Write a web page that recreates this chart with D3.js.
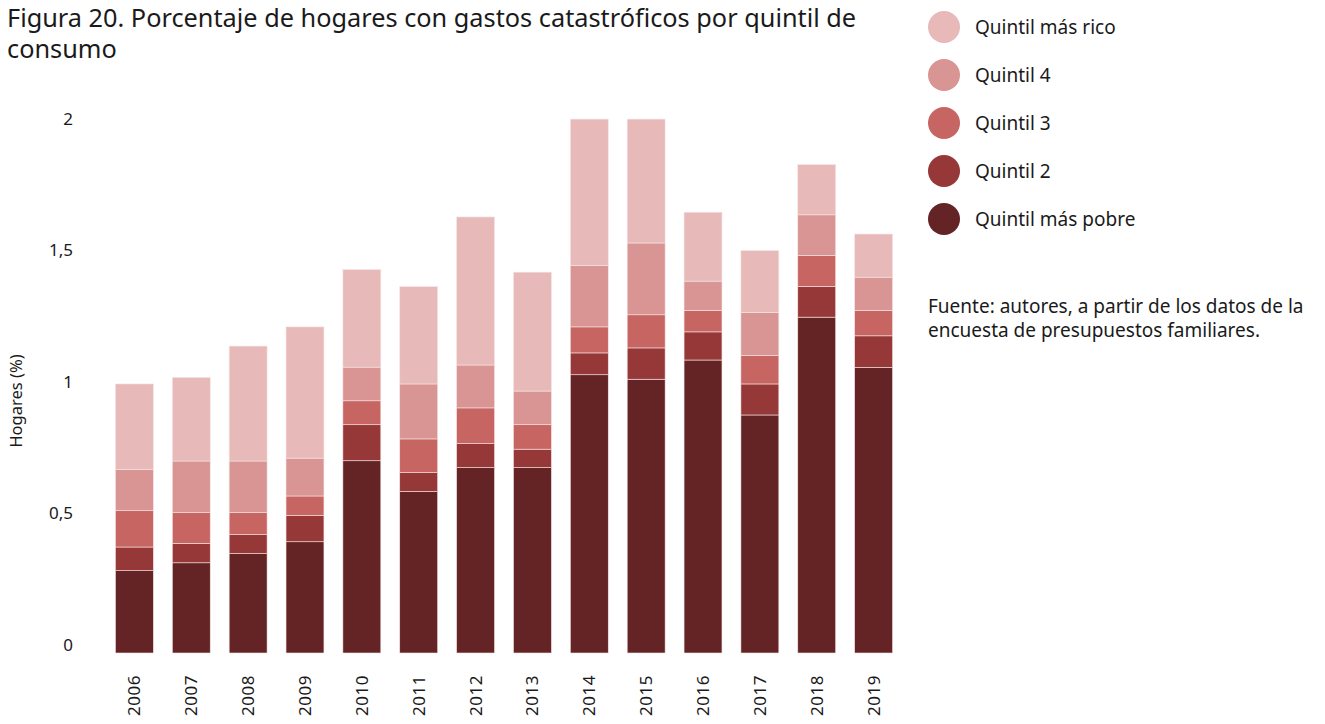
<!DOCTYPE html>
<meta charset="utf-8">
<style>
  body { margin: 0; background: #fff; }
  text { font-family: "Noto Sans", "Open Sans", sans-serif; fill: #1a1a1a; }
  .tick text { font-size: 17px; }
</style>
<svg width="1325" height="724"></svg>
<script src="https://cdnjs.cloudflare.com/ajax/libs/d3/7.8.5/d3.min.js"></script>
<script>

var years = ["2006","2007","2008","2009","2010","2011","2012","2013","2014","2015","2016","2017","2018","2019"];
// stacked from the bottom: poorest first
var quintiles = ["Quintil más pobre","Quintil 2","Quintil 3","Quintil 4","Quintil más rico"];
var poorest = [0.313,0.343,0.378,0.423,0.731,0.614,0.705,0.705,1.058,1.041,1.114,0.905,1.277,1.086];
var q2      = [0.090,0.074,0.072,0.100,0.137,0.072,0.091,0.070,0.083,0.119,0.107,0.118,0.117,0.120];
var q3      = [0.138,0.117,0.084,0.074,0.091,0.128,0.136,0.093,0.099,0.126,0.082,0.108,0.118,0.097];
var q4      = [0.156,0.196,0.196,0.144,0.128,0.209,0.163,0.128,0.234,0.273,0.111,0.164,0.154,0.126];
var richest = [0.326,0.318,0.437,0.499,0.371,0.370,0.563,0.452,0.556,0.471,0.262,0.235,0.191,0.164];
var yTicks = [0, 0.5, 1, 1.5, 2];

var colors = ["#642324","#963837","#c76563","#d89594","#e8b9b9"];

var svg = d3.select("svg");

var rows = years.map(function(y, i) {
  return {year: y, "Quintil más pobre": poorest[i], "Quintil 2": q2[i], "Quintil 3": q3[i],
          "Quintil 4": q4[i], "Quintil más rico": richest[i]};
});

var x = d3.scaleBand().domain(years).range([96.5, 911.5]).paddingInner(0.333).paddingOuter(0.333);
var y = d3.scaleLinear().domain([0, 2]).range([653, 127]);
var color = d3.scaleOrdinal().domain(quintiles).range(colors);

var series = d3.stack().keys(quintiles)(rows);

// title
svg.append("text").attr("x", 7).attr("y", 27).style("font-size", "25.3px")
  .text("Figura 20. Porcentaje de hogares con gastos catastróficos por quintil de");
svg.append("text").attr("x", 7).attr("y", 58).style("font-size", "25.3px").text("consumo");

// bars
svg.append("g").selectAll("g").data(series).enter().append("g")
    .attr("fill", function(d) { return color(d.key); })
  .selectAll("rect").data(function(d) { return d; }).enter().append("rect")
    .attr("x", function(d) { return x(d.data.year); })
    .attr("y", function(d) { return y(d[1]); })
    .attr("width", x.bandwidth())
    .attr("height", function(d) { return y(d[0]) - y(d[1]); })
    .attr("stroke", "#f6e4e4")
    .attr("stroke-width", 0.6);

// y axis
var yAxis = svg.append("g").attr("transform", "translate(73,0)")
  .call(d3.axisLeft(y).tickValues(yTicks).tickSize(0).tickPadding(0)
    .tickFormat(function(d) { return d3.format(".1~f")(d).replace(".", ","); }));
yAxis.select(".domain").remove();
yAxis.selectAll("text").attr("dy", "-0.15em");

svg.append("text")
  .attr("transform", "translate(22,401) rotate(-90)")
  .attr("text-anchor", "middle")
  .style("font-size", "16.5px")
  .text("Hogares (%)");

// x axis
var xAxis = svg.append("g").attr("transform", "translate(0,653)")
  .call(d3.axisBottom(x).tickSize(0).tickPadding(0));
xAxis.select(".domain").remove();
xAxis.selectAll("text")
  .attr("transform", "rotate(-90)")
  .attr("text-anchor", "end")
  .attr("x", -22)
  .attr("y", 0)
  .attr("dy", "0.35em")
  .style("letter-spacing", "0.5px");

// legend
var legendOrder = quintiles.slice().reverse();
var legend = svg.append("g").selectAll("g").data(legendOrder).enter().append("g")
  .attr("transform", function(d, i) { return "translate(944," + (27 + i * 48) + ")"; });
legend.append("circle").attr("r", 16).attr("fill", function(d) { return color(d); });
legend.append("text").attr("x", 31).attr("dy", "0.35em").style("font-size", "19px")
  .text(function(d) { return d; });

// source
svg.append("text").attr("x", 928).attr("y", 313).style("font-size", "19px")
  .text("Fuente: autores, a partir de los datos de la");
svg.append("text").attr("x", 928).attr("y", 337).style("font-size", "19px")
  .text("encuesta de presupuestos familiares.");

</script>
